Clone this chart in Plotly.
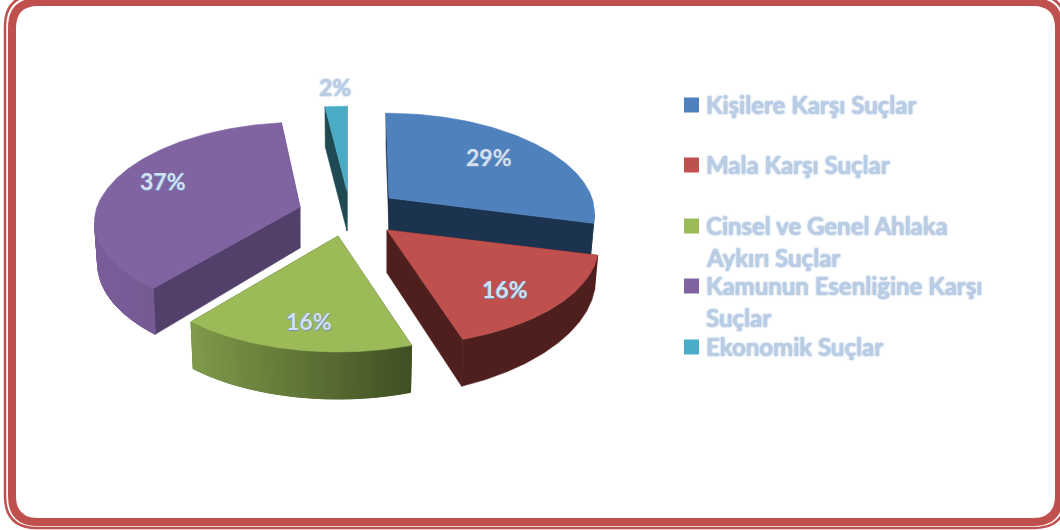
import math
import plotly.graph_objects as go

categories = ["Kişilere Karşı Suçlar", "Mala Karşı Suçlar", "Cinsel ve Genel Ahlaka\nAykırı Suçlar",
              "Kamunun Esenliğine Karşı\nSuçlar", "Ekonomik Suçlar"]
values = [29, 16, 16, 37, 2]
percent_labels = ["29%", "16%", "16%", "37%", "2%"]

top_colors = ["#4f81bd", "#c0504d", "#9bbb59", "#8064a2", "#4bacc6"]
radial_colors = ["#1c334f", "#4f1f1e", "#4f6030", "#52406a", "#1f4a54"]
# rim gradient, left to right
rim_colors = [("#1c334f", "#1c334f"), ("#4f1f1e", "#4f1f1e"), ("#7f9a4a", "#3f4f22"),
              ("#7a5e9b", "#68507f"), ("#1f4a54", "#1f4a54")]
label_colors = ["#d5e1f0", "#d5e1f0", "#d5e1f0", "#d5e1f0", "#b9cde5"]

# pixel layout of the exploded slices
origins = [(389, 198), (387, 230), (338, 236), (300, 207), (347, 191)]
depths = [(33, 0, 0), (43, -0.047, 0.069), (47, 0, 0), (41, 0, 0.06), (40, 0, 0)]
skews = [-3.5, 0, 0, 4, 0]
x_scales = [1, 1.03, 1, 1, 1]
front_y_scales = [1, 1, 1, 0.95, 1]
draw_order = [4, 3, 0, 2, 1]
label_pos = [(489, 157), (505, 289), (309, 321), (163, 181), (335, 87)]
legend_y = [104, 164, 225, 285, 346]

RX, RY, K = 203, 98, 0.155
SHADOW = "0 0 2px #8eaad2"
LABEL_SHADOW = "0.6px 0.6px 0 #6f8fbd, -0.5px -0.5px 0 #6f8fbd"


def project(i, t, r=1.0):
    """Top-face point and the point below it, for angle t clockwise from 12 o'clock."""
    u, v = r * math.sin(t), r * math.cos(t)
    s = 1 / (1 + K * v)
    ox, oy = origins[i]
    dx = RX * x_scales[i] * u * s + skews[i] * max(v, 0) * s
    dy = -RY * v * s
    if v < 0:
        dy *= front_y_scales[i]
    d, tx, ty = depths[i]
    low = (ox + dx * 0.985, oy + dy + d + tx * dx + ty * dy)
    return (ox + dx, oy + dy), low


def mix(a, b, f):
    ca = [int(a[j:j + 2], 16) for j in (1, 3, 5)]
    cb = [int(b[j:j + 2], 16) for j in (1, 3, 5)]
    return "#%02x%02x%02x" % tuple(round(p + (q - p) * f) for p, q in zip(ca, cb))


def poly(fig, pts, color, width=0.6):
    fig.add_trace(go.Scatter(
        x=[p[0] for p in pts] + [pts[0][0]], y=[p[1] for p in pts] + [pts[0][1]],
        mode="lines", fill="toself", fillcolor=color,
        line=dict(color=color, width=width), hoverinfo="skip", showlegend=False))


fig = go.Figure()

total = sum(values)
bounds = [0]
for val in values:
    bounds.append(bounds[-1] + val / total * 2 * math.pi)

for i in draw_order:
    t1, t2 = bounds[i], bounds[i + 1]
    apex_top, apex_low = project(i, 0, 0)
    # flat radial walls first, the rim and top cover the hidden ones
    for t in (t1, t2):
        top, low = project(i, t)
        poly(fig, [apex_top, top, low, apex_low], radial_colors[i])
    n = 120
    steps = [t1 + (t2 - t1) * j / n for j in range(n + 1)]
    xs = [project(i, t)[0][0] for t in steps]
    x_min, x_max = min(xs), max(xs)
    front = [t for t in steps if math.cos(t) < -K]
    if front:
        # solid rim underneath so the gradient strips leave no seams
        tops = [project(i, t)[0] for t in front]
        lows = [project(i, t)[1] for t in front]
        poly(fig, tops + lows[::-1], mix(rim_colors[i][0], rim_colors[i][1], 0.5))
        if rim_colors[i][0] != rim_colors[i][1]:
            strips = front[::2] + ([front[-1]] if (len(front) - 1) % 2 else [])
            for a, b in zip(strips, strips[1:]):
                ta, la = project(i, a)
                tb, lb = project(i, b)
                f = ((ta[0] + tb[0]) / 2 - x_min) / max(x_max - x_min, 1)
                poly(fig, [ta, tb, lb, la], mix(rim_colors[i][0], rim_colors[i][1], f), width=1)
    top_face = [apex_top] + [project(i, t)[0] for t in steps]
    poly(fig, top_face, top_colors[i])

# legend keys
fig.add_trace(go.Scatter(
    x=[691.5] * len(categories), y=[y + 1 for y in legend_y], mode="markers",
    marker=dict(symbol="square", size=15, color=top_colors, line=dict(width=0)),
    hoverinfo="skip", showlegend=False))

for name, y in zip(categories, legend_y):
    for n, line in enumerate(name.split("\n")):
        fig.add_annotation(x=704, y=y + n * 32, text=line, showarrow=False, xanchor="left", yanchor="middle",
                           font=dict(family="Lato", size=24, color="#b9cde5", weight="bold", shadow=SHADOW))

for text, color, (x, y) in zip(percent_labels, label_colors, label_pos):
    fig.add_annotation(x=x, y=y, text=text, showarrow=False,
                       font=dict(family="Lato", size=23, color=color, weight="bold",
                                 shadow=SHADOW if text == "2%" else LABEL_SHADOW))


def rounded(x0, y0, x1, y1, r):
    return (f"M{x0 + r},{y0} L{x1 - r},{y0} Q{x1},{y0} {x1},{y0 + r} L{x1},{y1 - r} Q{x1},{y1} {x1 - r},{y1} "
            f"L{x0 + r},{y1} Q{x0},{y1} {x0},{y1 - r} L{x0},{y0 + r} Q{x0},{y0} {x0 + r},{y0} Z")


fig.add_shape(type="path", path=rounded(12, 2, 1059, 522, 26), line=dict(color="#c0504d", width=8), xref="x", yref="y")
fig.add_shape(type="path", path=rounded(5, -5, 1066, 528, 32), line=dict(color="#c0504d", width=2.5), xref="x", yref="y")

fig.update_xaxes(range=[0, 1060], visible=False, fixedrange=True)
fig.update_yaxes(range=[530, 0], visible=False, fixedrange=True)
fig.update_layout(width=1060, height=530, margin=dict(l=0, r=0, t=0, b=0),
                  paper_bgcolor="white", plot_bgcolor="white")

fig.write_html("out.html", config=dict(displayModeBar=False),
               post_script="document.body.style.margin='0';document.body.style.overflow='hidden';")
